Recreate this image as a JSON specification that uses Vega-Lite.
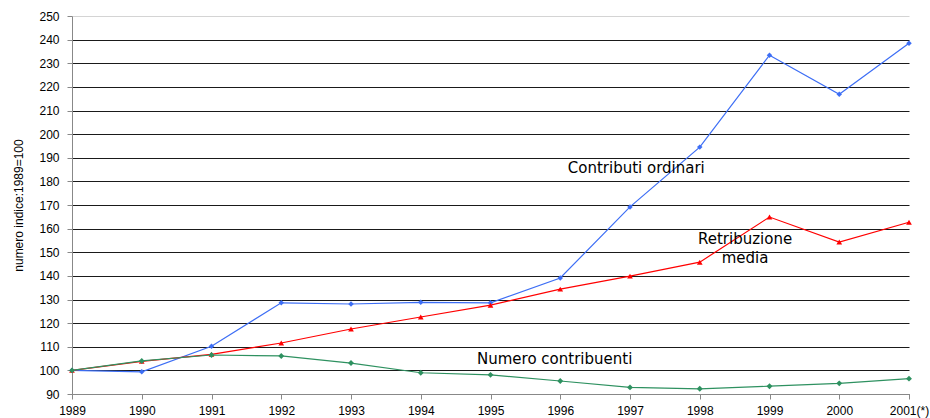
{
  "$schema": "https://vega.github.io/schema/vega-lite/v6.json",
  "width": 837,
  "height": 378,
  "autosize": "none",
  "padding": {"left": 72, "top": 16, "right": 21, "bottom": 24},
  "background": "white",
  "config": {"view": {"stroke": null}, "font": "Liberation Sans"},
  "datasets": {
    "series": [
      {"year": 1989, "serie": "Contributi ordinari", "v": 100},
      {"year": 1990, "serie": "Contributi ordinari", "v": 99.4},
      {"year": 1991, "serie": "Contributi ordinari", "v": 110.2},
      {"year": 1992, "serie": "Contributi ordinari", "v": 128.6},
      {"year": 1993, "serie": "Contributi ordinari", "v": 128.1},
      {"year": 1994, "serie": "Contributi ordinari", "v": 128.8},
      {"year": 1995, "serie": "Contributi ordinari", "v": 128.6},
      {"year": 1996, "serie": "Contributi ordinari", "v": 139.1},
      {"year": 1997, "serie": "Contributi ordinari", "v": 169.2},
      {"year": 1998, "serie": "Contributi ordinari", "v": 194.5},
      {"year": 1999, "serie": "Contributi ordinari", "v": 233.4},
      {"year": 2000, "serie": "Contributi ordinari", "v": 216.9},
      {"year": 2001, "serie": "Contributi ordinari", "v": 238.5},
      {"year": 1989, "serie": "Retribuzione media", "v": 100},
      {"year": 1990, "serie": "Retribuzione media", "v": 103.8},
      {"year": 1991, "serie": "Retribuzione media", "v": 106.8},
      {"year": 1992, "serie": "Retribuzione media", "v": 111.6},
      {"year": 1993, "serie": "Retribuzione media", "v": 117.5},
      {"year": 1994, "serie": "Retribuzione media", "v": 122.6},
      {"year": 1995, "serie": "Retribuzione media", "v": 127.6},
      {"year": 1996, "serie": "Retribuzione media", "v": 134.4},
      {"year": 1997, "serie": "Retribuzione media", "v": 139.9},
      {"year": 1998, "serie": "Retribuzione media", "v": 145.8},
      {"year": 1999, "serie": "Retribuzione media", "v": 164.9},
      {"year": 2000, "serie": "Retribuzione media", "v": 154.3},
      {"year": 2001, "serie": "Retribuzione media", "v": 162.7},
      {"year": 1989, "serie": "Numero contribuenti", "v": 100},
      {"year": 1990, "serie": "Numero contribuenti", "v": 104},
      {"year": 1991, "serie": "Numero contribuenti", "v": 106.5},
      {"year": 1992, "serie": "Numero contribuenti", "v": 106.1},
      {"year": 1993, "serie": "Numero contribuenti", "v": 103.1},
      {"year": 1994, "serie": "Numero contribuenti", "v": 99.0},
      {"year": 1995, "serie": "Numero contribuenti", "v": 98.1},
      {"year": 1996, "serie": "Numero contribuenti", "v": 95.5},
      {"year": 1997, "serie": "Numero contribuenti", "v": 92.8},
      {"year": 1998, "serie": "Numero contribuenti", "v": 92.2},
      {"year": 1999, "serie": "Numero contribuenti", "v": 93.3},
      {"year": 2000, "serie": "Numero contribuenti", "v": 94.5},
      {"year": 2001, "serie": "Numero contribuenti", "v": 96.5}
    ],
    "labels": [
      {"x": 1997.09, "y": 185.6, "t": "Contributi ordinari"},
      {"x": 1998.65, "y": 155.6, "t": "Retribuzione"},
      {"x": 1998.65, "y": 147.6, "t": "media"},
      {"x": 1995.92, "y": 105.0, "t": "Numero contribuenti"}
    ]
  },
  "layer": [
    {
      "data": {"name": "series"},
      "mark": {"type": "line", "strokeWidth": 1.2},
      "encoding": {
        "x": {
          "field": "year", "type": "quantitative",
          "scale": {"domain": [1989, 2001], "nice": false, "zero": false},
          "axis": {
            "title": null, "grid": false, "tickCount": 13,
            "values": [1989,1990,1991,1992,1993,1994,1995,1996,1997,1998,1999,2000,2001],
            "labelExpr": "datum.value == 2001 ? '2001(*)' : '' + datum.value",
            "labelFontSize": 12, "labelColor": "#000", "labelPadding": 6,
            "domainColor": "#888", "tickColor": "#888", "tickSize": 5,
            "labelFlush": false, "labelOverlap": false
          }
        },
        "y": {
          "field": "v", "type": "quantitative",
          "scale": {"domain": [90, 250], "nice": false, "zero": false},
          "axis": {
            "title": "numero indice:1989=100", "titleFontSize": 12, "titleFontWeight": "normal",
            "titleColor": "#000", "titlePadding": 13, "tickCount": 17,
            "values": [90,100,110,120,130,140,150,160,170,180,190,200,210,220,230,240,250],
            "labelFontSize": 12, "labelColor": "#000", "labelPadding": 8, "labelOverlap": false,
            "domainColor": "#888", "tickColor": "#888", "tickSize": 5,
            "gridColor": {"condition": {"test": "datum.value == 250", "value": "#d4d4d4"}, "value": "#1a1a1a"},
            "gridWidth": 1
          }
        },
        "color": {
          "field": "serie", "type": "nominal", "legend": null,
          "scale": {"domain": ["Contributi ordinari", "Retribuzione media", "Numero contribuenti"],
                    "range": ["#3d6ef5", "#ff0000", "#2e9160"]}
        },
        "detail": {"field": "serie"}
      }
    },
    {
      "data": {"name": "series"},
      "mark": {"type": "point", "filled": true, "opacity": 1},
      "encoding": {
        "x": {"field": "year", "type": "quantitative"},
        "y": {"field": "v", "type": "quantitative"},
        "color": {"field": "serie", "type": "nominal", "legend": null},
        "shape": {
          "field": "serie", "type": "nominal", "legend": null,
          "scale": {"domain": ["Contributi ordinari", "Retribuzione media", "Numero contribuenti"],
                    "range": ["diamond", "triangle-up", "diamond"]}
        },
        "size": {
          "field": "serie", "type": "nominal", "legend": null,
          "scale": {"domain": ["Contributi ordinari", "Retribuzione media", "Numero contribuenti"],
                    "range": [30, 35, 25]}
        }
      }
    },
    {
      "data": {"name": "labels"},
      "mark": {"type": "text", "font": "DejaVu Sans", "fontSize": 15, "color": "#000", "align": "center", "baseline": "middle"},
      "encoding": {
        "x": {"field": "x", "type": "quantitative"},
        "y": {"field": "y", "type": "quantitative"},
        "text": {"field": "t"}
      }
    }
  ]
}
